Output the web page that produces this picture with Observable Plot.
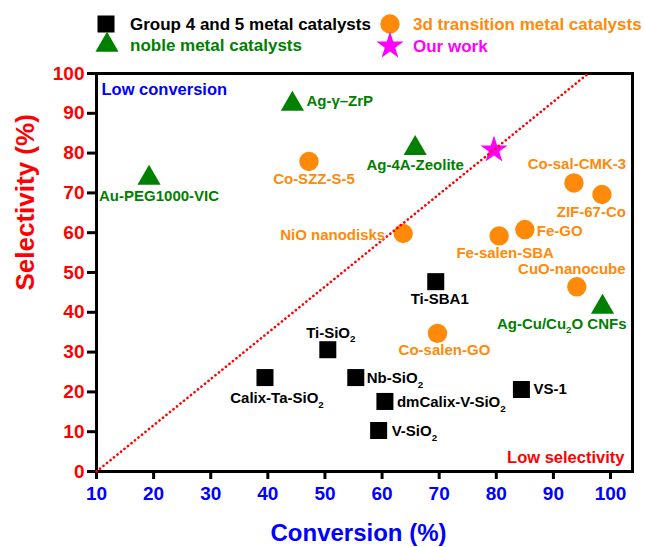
<!DOCTYPE html>
<html>
<head>
<meta charset="utf-8">
<script src="https://cdn.jsdelivr.net/npm/d3@7"></script>
<script src="https://cdn.jsdelivr.net/npm/@observablehq/plot@0.6"></script>
<style>
  body { margin: 0; background: #fff; font-family: "Liberation Sans", Arial, sans-serif; }
  #wrap { width: 645px; height: 547px; position: relative; }
  svg { display: block; }
</style>
</head>
<body>
<div id="wrap"></div>
<script>
// ---------------- data ----------------
const xTicks = [10, 20, 30, 40, 50, 60, 70, 80, 90, 100];
const yTicks = [0, 10, 20, 30, 40, 50, 60, 70, 80, 90, 100];

// Group 4 and 5 metal catalysts
const g45Names = ["Ti-SBA1", "Ti-SiO₂", "Calix-Ta-SiO₂", "Nb-SiO₂", "dmCalix-V-SiO₂", "V-SiO₂", "VS-1"];
const g45Conv  = [69.4, 50.5, 39.5, 55.4, 60.5, 59.4, 84.4];
const g45Sel   = [47.7, 30.6, 23.6, 23.6, 17.6, 10.3, 20.6];

// 3d transition metal catalysts
const tmNames = ["Co-SZZ-S-5", "NiO nanodisks", "Co-sal-CMK-3", "ZIF-67-Co", "Fe-GO", "Fe-salen-SBA", "CuO-nanocube", "Co-salen-GO"];
const tmConv  = [47.2, 63.7, 93.6, 98.5, 85.0, 80.5, 94.1, 69.7];
const tmSel   = [77.9, 59.8, 72.5, 69.6, 60.8, 59.2, 46.4, 34.7];

// noble metal catalysts
const nbNames = ["Au-PEG1000-VIC", "Ag-γ–ZrP", "Ag-4A-Zeolite", "Ag-Cu/Cu₂O CNFs"];
const nbConv  = [19.2, 44.3, 65.8, 98.6];
const nbSel   = [73.7, 92.3, 81.2, 41.3];

// our work
const owNames = ["Our work"];
const owConv  = [79.6];
const owSel   = [80.8];

// diagonal reference line
const diagConv = [10, 96.1];
const diagSel  = [0, 100];

// ---------------- styles ----------------
const FONT = '"Liberation Sans", Arial, sans-serif';
const C = {black: "#000000", orange: "#ff8a0a", green: "#008000", magenta: "#ff00ff", red: "#ff0000", blue: "#0000ff"};

// label offsets: [dx, dy, anchor]
const labelLayout = {
  "Ti-SBA1": [4, 18, "middle"],
  "Ti-SiO₂": [3, -17, "middle"],
  "Calix-Ta-SiO₂": [12, 21, "middle"],
  "Nb-SiO₂": [11, 1, "start"],
  "dmCalix-V-SiO₂": [12, 1, "start"],
  "V-SiO₂": [13, 1, "start"],
  "VS-1": [12, 0, "start"],
  "Co-SZZ-S-5": [5, 18, "middle"],
  "NiO nanodisks": [-18, 2, "end"],
  "Co-sal-CMK-3": [3, -19, "middle"],
  "ZIF-67-Co": [24, 18, "end"],
  "Fe-GO": [12, 2, "start"],
  "Fe-salen-SBA": [6, 17, "middle"],
  "CuO-nanocube": [-5, -18, "middle"],
  "Co-salen-GO": [7, 17, "middle"],
  "Au-PEG1000-VIC": [10, 18, "middle"],
  "Ag-γ–ZrP": [14, -3, "start"],
  "Ag-4A-Zeolite": [0, 17, "middle"],
  "Ag-Cu/Cu₂O CNFs": [24, 17, "end"]
};

const toRows = (names, xs, ys) => names.map((n, i) => ({name: n, conv: xs[i], sel: ys[i]}));
const g45 = toRows(g45Names, g45Conv, g45Sel);
const tm  = toRows(tmNames, tmConv, tmSel);
const nb  = toRows(nbNames, nbConv, nbSel);
const ow  = toRows(owNames, owConv, owSel);
const diag = diagConv.map((x, i) => ({conv: x, sel: diagSel[i]}));

const groups = [
  {rows: g45, symbol: "square", r: 9.6, color: C.black},
  {rows: tm, symbol: "circle", r: 9.7, color: C.orange},
  {rows: nb, symbol: "triangle", r: 8.6, color: C.green}
];

// ---------------- legend ----------------
const legend = d3.create("svg").attr("width", 645).attr("height", 60)
  .attr("font-family", FONT).attr("font-weight", "bold").attr("font-size", 17);
const legItems = [
  {sym: d3.symbolSquare, r: 9.6, color: C.black, sx: 106, y: 24, tx: 130, text: "Group 4 and 5 metal catalysts"},
  {sym: d3.symbolCircle, r: 9.7, color: C.orange, sx: 390, y: 24, tx: 413, text: "3d transition metal catalysts"},
  {sym: d3.symbolTriangle, r: 8.6, color: C.green, sx: 107, y: 45, tx: 130, text: "noble metal catalysts"},
  {sym: d3.symbolStar, r: 8.6, color: C.magenta, sx: 390, y: 46, tx: 413, text: "Our work"}
];
for (const it of legItems) {
  legend.append("path")
    .attr("d", d3.symbol(it.sym, Math.PI * it.r * it.r)())
    .attr("transform", `translate(${it.sx},${it.y})`)
    .attr("fill", it.color);
  legend.append("text").attr("x", it.tx).attr("y", it.y).attr("dy", "0.35em")
    .attr("fill", it.color).text(it.text);
}
document.getElementById("wrap").append(legend.node());

// ---------------- plot ----------------
const marks = [
  Plot.frame({stroke: C.black, strokeWidth: 3}),
  Plot.axisX({ticks: xTicks, tickSize: 8, strokeWidth: 3, color: C.black, tickFormat: () => ""}),
  Plot.axisX({ticks: xTicks, tickSize: 0, tickPadding: 15, color: C.blue, fontSize: 19, fontWeight: "bold"}),
  Plot.axisY({ticks: yTicks, tickSize: 9, strokeWidth: 3, color: C.black, tickFormat: () => ""}),
  Plot.axisY({ticks: yTicks, tickSize: 0, tickPadding: 12, color: C.red, fontSize: 19, fontWeight: "bold"}),
  Plot.text(["Low conversion"], {frameAnchor: "top-left", textAnchor: "start", lineAnchor: "middle", dx: 5, dy: 16,
    fill: C.blue, fontSize: 16.5, fontWeight: "bold"}),
  Plot.text(["Low selectivity"], {frameAnchor: "bottom-right", textAnchor: "end", lineAnchor: "middle", dx: -8, dy: -14,
    fill: C.red, fontSize: 16.5, fontWeight: "bold"}),
  Plot.text(["Conversion (%)"], {frameAnchor: "bottom", lineAnchor: "middle", dx: -6, dy: 62,
    fill: C.blue, fontSize: 24, fontWeight: "bold"}),
  Plot.text(["Selectivity (%)"], {frameAnchor: "left", lineAnchor: "middle", rotate: -90, dx: -71, dy: 18,
    fill: C.red, fontSize: 26, fontWeight: "bold"})
];

for (const g of groups) {
  marks.push(Plot.dot(g.rows, {x: "conv", y: "sel", symbol: () => g.symbol, r: g.r, fill: g.color, stroke: "none"}));
}
marks.push(Plot.dot(ow, {x: "conv", y: "sel", symbol: () => "star", r: 8.6, fill: C.magenta, stroke: "none"}));
marks.push(Plot.line(diag, {x: "conv", y: "sel", stroke: C.red, strokeWidth: 2.6, strokeDasharray: "0.1 4.4", strokeLinecap: "round"}));

for (const g of groups) {
  for (const d of g.rows) {
    const [dx, dy, anchor] = labelLayout[d.name];
    marks.push(Plot.text([d], {x: "conv", y: "sel", text: "name", dx, dy, textAnchor: anchor, lineAnchor: "middle",
      fill: g.color, fontSize: 15, fontWeight: "bold"}));
  }
}

const chart = Plot.plot({
  width: 645,
  height: 487,
  marginTop: 13,
  marginBottom: 76,
  marginLeft: 96,
  marginRight: 13,
  style: {fontFamily: FONT, background: "white", overflow: "visible"},
  x: {domain: [10, 103.85], label: null},
  y: {domain: [0, 100], label: null},
  symbol: {type: "identity"},
  marks
});

// render subscript 2 as a real lowered small "2"
d3.select(chart).selectAll("text").each(function () {
  const t = this.textContent;
  if (!t.includes("₂") || this.childElementCount) return;
  const el = d3.select(this);
  el.text(null);
  const parts = t.split("₂");
  parts.forEach((p, i) => {
    if (p) el.append("tspan").text(p).attr("dy", i > 0 ? "-0.3em" : null);
    if (i < parts.length - 1) el.append("tspan").text("2").attr("font-size", "0.65em").attr("dy", "0.45em");
  });
});

document.getElementById("wrap").append(chart);
</script>
</body>
</html>
